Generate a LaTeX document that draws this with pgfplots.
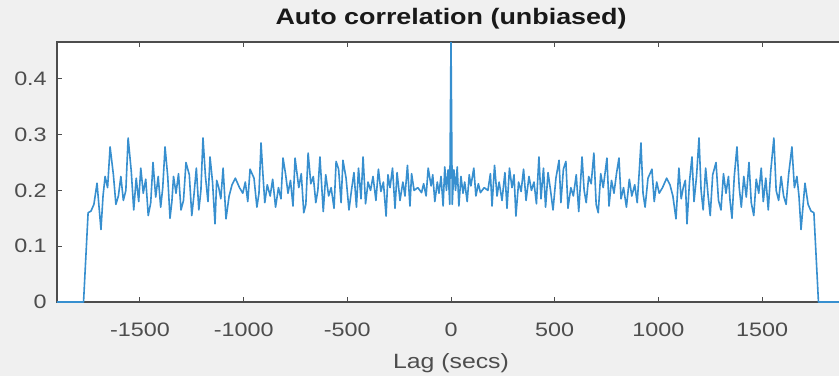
\documentclass[border=0pt]{standalone}
\usepackage{pgfplots}
\pgfplotsset{compat=1.18}
\usepackage{fontspec}
\setmainfont{Liberation Sans}[FakeStretch=1.2]
\definecolor{bg}{RGB}{240,240,240}
\definecolor{axc}{RGB}{77,77,77}
\definecolor{lineblue}{RGB}{55,143,207}
\begin{document}
\begin{tikzpicture}
\fill[bg] (-42.75pt,-55.5pt) rectangle (586.5pt,226.5pt);
\begin{scope}
\clip (-42.75pt,-55.5pt) rectangle (586.5pt,226.5pt);
\begin{axis}[
  at={(0,0)}, anchor=south west,
  scale only axis, width=591pt, height=195pt,
  xmin=-1900, xmax=1900, ymin=0, ymax=0.466,
  axis background/.style={fill=white},
  axis line style={axc, line width=0.8pt},
  every tick/.style={axc, line width=0.7pt},
  major tick length=3.5pt,
  tick align=inside,
  xtick={-1500,-1000,-500,0,500,1000,1500},
  ytick={0,0.1,0.2,0.3,0.4},
  minor tick num=0,
  /pgf/number format/assume math mode=true,
  /pgf/number format/1000 sep={},
  ticklabel style={font=\fontsize{14.6}{17}\selectfont, text=axc},
  xticklabel style={anchor=base, inner sep=0pt, yshift=-25.5pt},
  yticklabel style={anchor=east, inner sep=0pt, xshift=-7.5pt},
  xlabel={Lag (secs)},
  xlabel style={at={(axis description cs:0.5,0)}, anchor=base, inner sep=0pt, yshift=-49.5pt, font=\fontsize{15.5}{18}\selectfont, text=axc},
  title={Auto correlation (unbiased)},
  title style={at={(axis description cs:0.5,1)}, anchor=base, inner sep=0pt, yshift=7.5pt, font=\fontsize{16.8}{20}\selectfont\bfseries, text=black!90},
]
\addplot[lineblue, line width=1.2pt, line join=round, mark=none] table {
x y
-1900 0
-1772 0
-1750 0.160
-1736 0.163
-1722 0.175
-1707 0.213
-1688 0.130
-1678 0.190
-1668 0.225
-1656 0.205
-1644 0.278
-1628 0.228
-1616 0.175
-1604 0.190
-1592 0.225
-1580 0.182
-1568 0.200
-1557 0.294
-1542 0.235
-1530 0.165
-1518 0.222
-1506 0.180
-1496 0.240
-1484 0.195
-1472 0.220
-1460 0.155
-1448 0.178
-1437 0.250
-1424 0.188
-1412 0.225
-1400 0.170
-1390 0.205
-1379 0.278
-1366 0.225
-1355 0.150
-1346 0.180
-1338 0.225
-1326 0.195
-1314 0.230
-1302 0.165
-1290 0.182
-1278 0.250
-1262 0.228
-1250 0.155
-1240 0.190
-1228 0.240
-1216 0.165
-1206 0.200
-1196 0.294
-1184 0.225
-1172 0.180
-1162 0.260
-1150 0.215
-1138 0.140
-1130 0.218
-1120 0.205
-1110 0.185
-1099 0.240
-1085 0.149
-1070 0.190
-1056 0.210
-1040 0.222
-1020 0.205
-1004 0.195
-992 0.215
-980 0.180
-969 0.238
-950 0.222
-936 0.170
-926 0.195
-916 0.285
-908 0.235
-898 0.178
-886 0.210
-872 0.190
-860 0.220
-846 0.170
-832 0.205
-820 0.185
-810 0.258
-798 0.230
-786 0.195
-774 0.218
-762 0.172
-752 0.258
-734 0.205
-722 0.230
-710 0.160
-700 0.175
-689 0.267
-676 0.212
-664 0.225
-652 0.178
-642 0.200
-632 0.260
-616 0.162
-604 0.228
-590 0.190
-578 0.205
-564 0.168
-554 0.252
-542 0.238
-530 0.178
-521 0.254
-506 0.222
-492 0.165
-480 0.200
-468 0.232
-456 0.170
-446 0.240
-434 0.185
-424 0.260
-412 0.176
-400 0.215
-388 0.200
-376 0.225
-362 0.182
-350 0.238
-338 0.198
-326 0.215
-313 0.154
-304 0.228
-294 0.205
-282 0.240
-270 0.168
-260 0.232
-246 0.182
-232 0.215
-222 0.190
-210 0.245
-198 0.172
-190 0.230
-178 0.200
-160 0.205
-142 0.196
-132 0.212
-120 0.190
-110 0.240
-96 0.208
-88 0.228
-78 0.180
-66 0.215
-58 0.195
-48 0.225
-38 0.172
-30 0.242
-22 0.200
-14 0.237
-6 0.175
0 0.470
6 0.175
14 0.237
22 0.200
30 0.242
38 0.172
48 0.225
58 0.195
66 0.215
78 0.180
88 0.228
96 0.208
110 0.240
120 0.190
132 0.212
142 0.196
160 0.205
178 0.200
190 0.230
198 0.172
210 0.245
222 0.190
232 0.215
246 0.182
260 0.232
270 0.168
282 0.240
294 0.205
304 0.228
313 0.154
326 0.215
338 0.198
350 0.238
362 0.182
376 0.225
388 0.200
400 0.215
412 0.176
424 0.260
434 0.185
446 0.240
456 0.170
468 0.232
480 0.200
492 0.165
506 0.222
521 0.254
530 0.178
542 0.238
554 0.252
564 0.168
578 0.205
590 0.190
604 0.228
616 0.162
632 0.260
642 0.200
652 0.178
664 0.225
676 0.212
689 0.267
700 0.175
710 0.160
722 0.230
734 0.205
752 0.258
762 0.172
774 0.218
786 0.195
798 0.230
810 0.258
820 0.185
832 0.205
846 0.170
860 0.220
872 0.190
886 0.210
898 0.178
908 0.235
916 0.285
926 0.195
936 0.170
950 0.222
969 0.238
980 0.180
992 0.215
1004 0.195
1020 0.205
1040 0.222
1056 0.210
1070 0.190
1085 0.149
1099 0.240
1110 0.185
1120 0.205
1130 0.218
1138 0.140
1150 0.215
1162 0.260
1172 0.180
1184 0.225
1196 0.294
1206 0.200
1216 0.165
1228 0.240
1240 0.190
1250 0.155
1262 0.228
1278 0.250
1290 0.182
1302 0.165
1314 0.230
1326 0.195
1338 0.225
1346 0.180
1355 0.150
1366 0.225
1379 0.278
1390 0.205
1400 0.170
1412 0.225
1424 0.188
1437 0.250
1448 0.178
1460 0.155
1472 0.220
1484 0.195
1496 0.240
1506 0.180
1518 0.222
1530 0.165
1542 0.235
1557 0.294
1568 0.200
1580 0.182
1592 0.225
1604 0.190
1616 0.175
1628 0.228
1644 0.278
1656 0.205
1668 0.225
1678 0.190
1688 0.130
1707 0.213
1722 0.175
1736 0.163
1750 0.160
1772 0
1900 0
};
\end{axis}
\end{scope}
\pgfresetboundingbox
\path[use as bounding box] (-42.75pt,-55.5pt) rectangle (586.5pt,226.5pt);
\end{tikzpicture}
\end{document}
